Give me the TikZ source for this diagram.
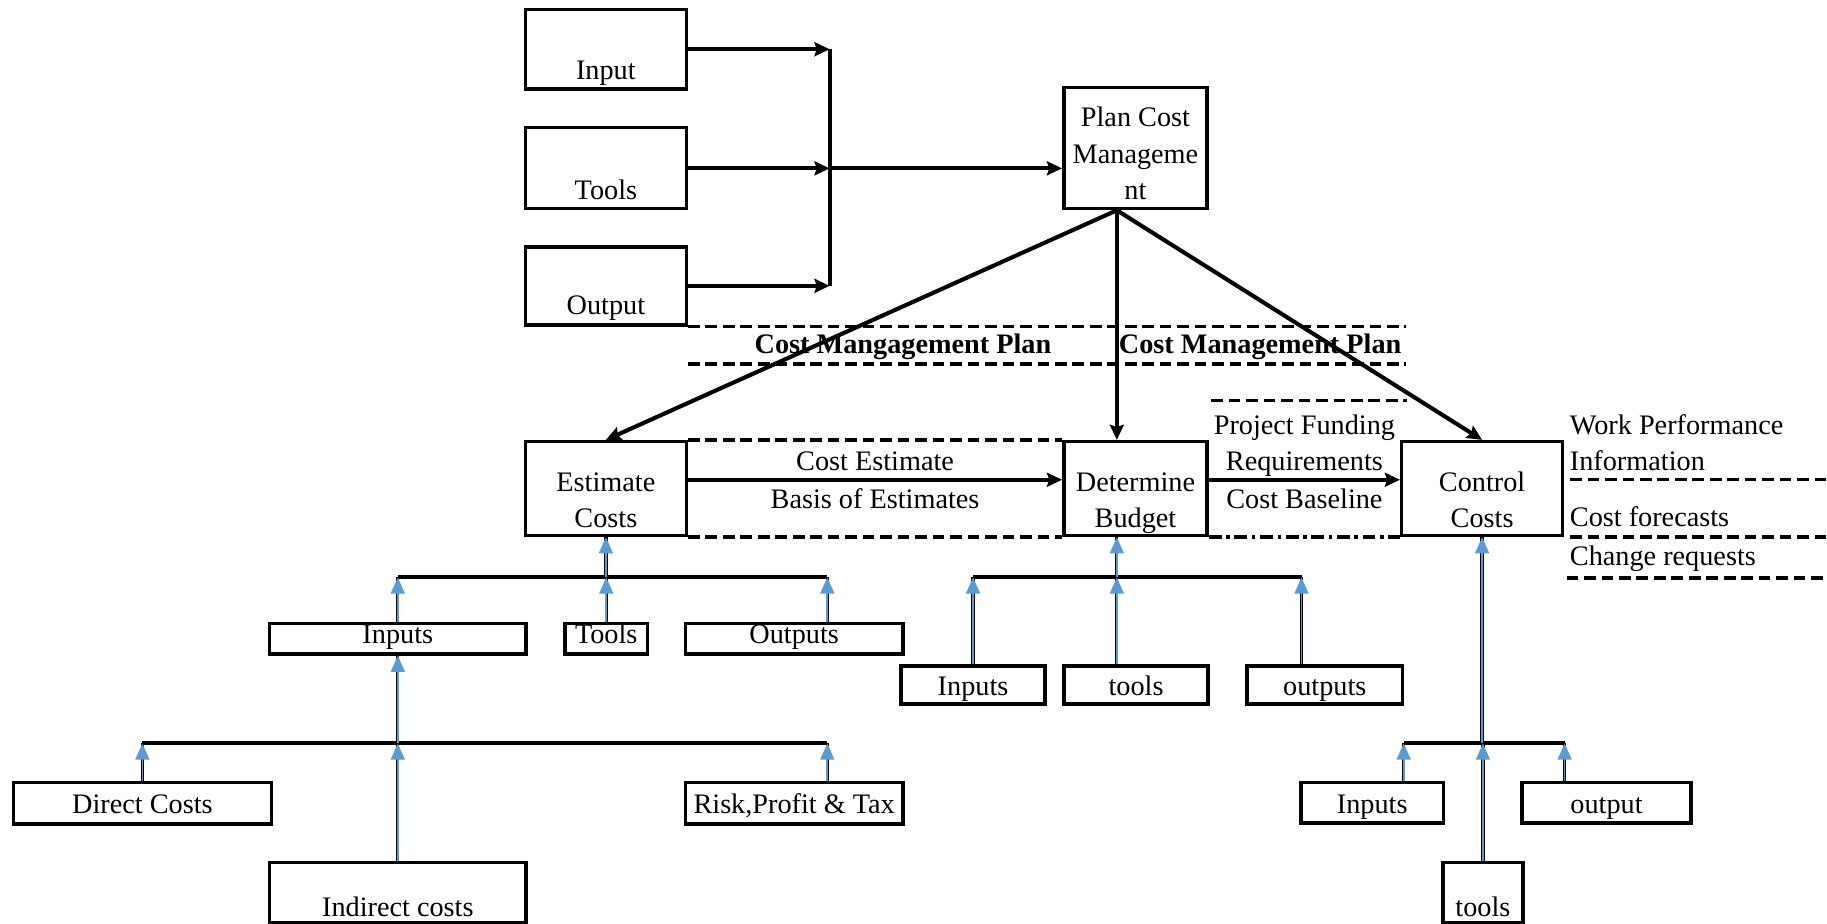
\documentclass[tikz,border=0pt]{standalone}
\usepackage{fontspec}
\setmainfont{Liberation Serif}
\usetikzlibrary{positioning, calc, arrows.meta}
\definecolor{LinkBlue}{RGB}{91, 155, 213}

\begin{document}
\begin{tikzpicture}[x=0.02cm, y=-0.02cm, >={Stealth[length=0.26cm, width=0.24cm, inset=0.04cm]}, font=\fontsize{13.8pt}{17.7pt}\selectfont]
    \tikzstyle{box} = [rectangle, draw, line width=1.7pt, anchor=base, align=center, inner xsep=1pt, inner ysep=0pt]
    \tikzstyle{arrow} = [line width=2pt, ->]
    \tikzstyle{bar} = [line width=2pt]
    \tikzstyle{up} = [preaction={draw=black, line width=1.6pt, -}, draw=LinkBlue, line width=0.8pt, -{Triangle[length=0.28cm, width=0.24cm]}]
    \tikzstyle{sep} = [line width=1.6pt, dash pattern=on 0.2cm off 0.1cm]
    \tikzstyle{sepdot} = [line width=1.6pt, dash pattern=on 0.22cm off 0.08cm on 0.06cm off 0.08cm]
    \tikzstyle{txt} = [anchor=base, inner sep=0pt, align=center]

    \useasboundingbox (0,0) rectangle (1568,793);

    % plan cost management
    \node [box, minimum width=2.76cm, text height=1.21cm, text depth=0.16cm] (in1) at (520,68.5) {Input};
    \node [box, minimum width=2.76cm, text height=1.23cm, text depth=0.16cm] (tl1) at (520,170.8) {Tools};
    \node [box, minimum width=2.76cm, text height=1.17cm, text depth=0.17cm] (out1) at (520,270.3) {Output};
    \node [box, minimum width=2.46cm, text height=1.92cm, text depth=0.16cm] (pcm) at (974.5,171) {Plan Cost\\Manageme\\nt};

    \coordinate (jn) at (712,144.5);
    \draw [arrow] (in1.east) -- (in1.east -| jn);
    \draw [arrow] (out1.east) -- (out1.east -| jn);
    \draw [bar] (in1.east -| jn) -- (out1.east -| jn);
    \draw [arrow] (tl1.east |- jn) -- (jn);
    \draw [arrow] (jn) -- (jn -| pcm.west);

    % processes
    \node [box, minimum width=2.76cm, text height=1.47cm, text depth=0.14cm] (est) at (520,452.5) {Estimate\\Costs};
    \node [box, minimum width=2.46cm, text height=1.47cm, text depth=0.14cm] (det) at (974.5,452.5) {Determine\\Budget};
    \node [box, minimum width=2.76cm, text height=1.47cm, text depth=0.14cm] (ctl) at (1272,452.5) {Control\\Costs};

    \coordinate (pcmb) at ($(pcm.south)+(-16,0)$);
    \draw [arrow] (pcmb) -- (est.north);
    \draw [arrow] (pcmb) -- (pcmb |- det.north);
    \draw [arrow] (pcmb) -- (ctl.north);

    \draw [sep] (out1.south east) -- ++(616,0);
    \draw [sep] ($(out1.south east)+(0,32)$) -- ++(616,0);
    \node [txt] (cmp1) at (775,303) {\textbf{Cost Mangagement Plan}};
    \node [txt] (cmp2) at (1081.5,303) {\textbf{Cost Management Plan}};

    \draw [arrow] ($(est.east)+(0,-7.5)$) -- node [txt, yshift=0.16cm] (ce) {Cost Estimate} node [txt, yshift=-0.5cm] (boe) {Basis of Estimates} ($(det.west)+(0,-7.5)$);
    \draw [sep] (est.north east) -- (det.north west);
    \draw [sep] (est.south east) -- (det.south west);

    \draw [arrow] ($(det.east)+(0,-7.5)$) -- node [txt, yshift=0.16cm] (pfr) {Project Funding\\Requirements} node [txt, yshift=-0.5cm] (cbl) {Cost Baseline} ($(ctl.west)+(0,-7.5)$);
    \draw [sep] ($(det.north east)+(2,-34)$) -- ++(168,0);
    \draw [sepdot] (det.south east) -- (ctl.south west);

    % control costs outputs
    \node [txt, align=left, anchor=base west] (wpi) at (1347,404) {Work Performance\\Information};
    \node [txt, anchor=base west] (cfc) at (1347,452) {Cost forecasts};
    \node [txt, anchor=base west] (crq) at (1347,485) {Change requests};
    \draw [sep] ($(ctl.east)+(5,-8)$) -- ++(222,0);
    \draw [sep] ($(ctl.south east)+(5,0)$) -- ++(222,0);
    \draw [sep] ($(ctl.south east)+(2,35)$) -- ++(225,0);

    % estimate costs tree
    \node [box, minimum width=4.40cm, text height=0.34cm, text depth=0.18cm] (eci) at (341.4,552.1) {Inputs};
    \node [box, minimum width=1.41cm, text height=0.34cm, text depth=0.18cm] (ect) at (520.3,552.1) {Tools};
    \node [box, minimum width=3.74cm, text height=0.34cm, text depth=0.18cm] (eco) at (681.6,552.1) {Outputs};
    \node [box, minimum width=4.43cm, text height=0.54cm, text depth=0.17cm] (dc) at (122.2,698.6) {Direct Costs};
    \node [box, minimum width=3.74cm, text height=0.54cm, text depth=0.17cm] (rpt) at (681.6,698.6) {Risk,Profit \& Tax};
    \node [box, minimum width=4.40cm, text height=0.93cm, text depth=0.11cm] (ic) at (341.4,786.7) {Indirect costs};

    \coordinate (eb) at (520,495.5);
    \coordinate (eb2) at (341.4,638);
    \coordinate (ecoa) at ($(eco.north)+(28.4,0)$);
    \coordinate (rpta) at ($(rpt.north)+(28.4,0)$);
    \draw [bar] (eci.north |- eb) -- (ecoa |- eb);
    \draw [up] (eb) -- (est.south);
    \foreach \c in {eci.north, ect.north, ecoa}
        \draw [up] (\c) -- (\c |- eb);
    \draw [bar] (dc.north |- eb2) -- (rpta |- eb2);
    \draw [up] (eb2) -- (eci.south);
    \foreach \c in {dc.north, ic.north, rpta}
        \draw [up] (\c) -- (\c |- eb2);

    % determine budget tree
    \node [box, minimum width=2.47cm, text height=0.50cm, text depth=0.15cm] (dbi) at (835.1,596.5) {Inputs};
    \node [box, minimum width=2.47cm, text height=0.50cm, text depth=0.15cm] (dbt) at (975,596.5) {tools};
    \node [box, minimum width=2.67cm, text height=0.50cm, text depth=0.15cm] (dbo) at (1137,596.5) {outputs};

    \coordinate (db) at (958.5,495.5);
    \coordinate (dbta) at ($(dbt.north)+(-16.5,0)$);
    \coordinate (dboa) at ($(dbo.north)+(-20,0)$);
    \draw [bar] (dbi.north |- db) -- (dboa |- db);
    \draw [up] (db) -- (db |- det.south);
    \foreach \c in {dbi.north, dbta, dboa}
        \draw [up] (\c) -- (\c |- db);

    % control costs tree
    \node [box, minimum width=2.44cm, text height=0.53cm, text depth=0.17cm] (cci) at (1177.7,698) {Inputs};
    \node [box, minimum width=2.90cm, text height=0.53cm, text depth=0.17cm] (cco) at (1378.8,698) {output};
    \node [box, minimum width=1.37cm, text height=0.93cm, text depth=0.11cm] (cct) at (1272.7,786.7) {tools};

    \coordinate (ccb) at (1272,638);
    \coordinate (ccia) at ($(cci.north)+(27,0)$);
    \coordinate (ccoa) at ($(cco.north)+(-36,0)$);
    \draw [bar] (ccia |- ccb) -- (ccoa |- ccb);
    \draw [up] (ccb) -- (ccb |- ctl.south);
    \foreach \c in {ccia, cct.north, ccoa}
        \draw [up] (\c) -- (\c |- ccb);
\end{tikzpicture}
\end{document}
